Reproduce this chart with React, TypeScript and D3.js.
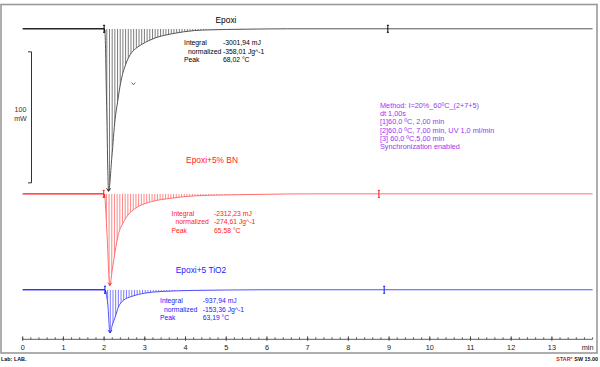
import React from 'react';
import * as d3 from 'd3';

// DSC curves: time in min, heat flow in mW (negative = exothermic, drawn downwards)
const epoxiTime = [0, 2.0, 2.02, 2.06, 2.11, 2.19, 2.27, 2.33, 2.39, 2.45, 2.51, 2.6, 2.68, 2.8, 2.92, 3.1, 3.25, 3.45, 3.66, 3.95, 4.23, 4.6, 5.0, 5.5, 6.5, 14];
const epoxiFlow = [0, 0, -2, -55, -124, -98, -69, -56, -44, -35, -29, -22, -18, -14.5, -12, -9, -7, -5.2, -3.8, -2.3, -1.3, -0.8, -0.5, -0.3, 0, 0];

const bnTime = [0, 2.0, 2.02, 2.07, 2.14, 2.2, 2.27, 2.35, 2.47, 2.59, 2.84, 3.17, 3.66, 4.23, 5.04, 6.0, 7.0, 14];
const bnFlow = [0, 0, -3, -30, -70, -58, -44, -31, -22, -16, -9.7, -5.9, -3.3, -1.5, -0.8, -0.3, 0, 0];

const tioTime = [0, 2.02, 2.05, 2.09, 2.145, 2.2, 2.27, 2.35, 2.47, 2.68, 3.0, 3.42, 4.23, 5.0, 6.0, 14];
const tioFlow = [0, 0, -3, -11, -33, -27, -21, -13.3, -8.2, -5.1, -2.6, -1.3, -0.5, -0.2, 0, 0];

const seriesNames = ['Epoxi', 'Epoxi+5% BN', 'Epoxi+5 TiO2'];
const integrals = ['-3001,94 mJ', '-2312,23 mJ', '-937,94 mJ'];
const normalizedVals = ['-358,01 Jg^-1', '-274,61 Jg^-1', '-153,36 Jg^-1'];
const peakTemps = ['68,02 °C', '65,58 °C', '63,19 °C'];
const limitStart = [2.0, 1.99, 2.02];
const limitEnd = [8.97, 8.75, 8.88];

// small chevron mark on the Epoxi curve
const markTime = 2.72;
const markFlow = -42;

const methodLines = [
  'Method: I=20%_60ºC_(2+7+5)',
  'dt 1,00s',
  '[1]60,0 ºC, 2,00 min',
  '[2]60,0 ºC, 7,00 min, UV 1,0 ml/min',
  '[3] 60,0 ºC,5,00 min',
  'Synchronization enabled',
];

const majorTicks = d3.range(0, 14);
const minorTicks = d3.range(0, 14.01, 0.2);

// layout
const W = 600;
const H = 367;
const offsets = [0, -126, -199.2];
const colors = ['#000000', '#ff1a1a', '#1a1aff'];
const lineColors = ['#555555', '#ff7070', '#5050ff'];
const hatchColors = ['#444444', '#ff5555', '#4444ff'];
const nameLabelPos = [[226, 23], [212, 163], [201, 273]];
const infoPos = [[184, 45], [171.5, 215.5], [160, 303]];
const valueShift = [39, 42.5, 42.7];
const font = "'Liberation Sans', Arial, sans-serif";

export default function App() {
  const x = d3.scaleLinear().domain([0, 14]).range([22.7, 592.6]);
  const y = d3.scaleLinear().domain([0, -100]).range([28.8, 159.8]);
  const axisY = 339.3;

  const series = [
    { t: epoxiTime, v: epoxiFlow },
    { t: bnTime, v: bnFlow },
    { t: tioTime, v: tioFlow },
  ];

  const mx = x(markTime);
  const my = y(markFlow);

  return (
    <svg width={W} height={H} style={{ position: 'absolute', left: 0, top: 0, background: '#fff' }} fontFamily={font}>
      <rect x={1} y={4.5} width={596} height={348.5} fill="none" stroke="#9a9a9a" strokeWidth={1.6} />

      <defs>
        {series.map((s, i) => {
          const base = y(offsets[i]);
          const area = d3.area<number>()
            .x((_, j) => x(s.t[j]))
            .y0(base)
            .y1((d) => y(d + offsets[i]))
            .curve(d3.curveMonotoneX);
          return (
            <clipPath id={`clip${i}`} key={i}>
              <path d={area(s.v) || ''} />
            </clipPath>
          );
        })}
      </defs>

      {series.map((s, i) => {
        const base = y(offsets[i]);
        const line = d3.line<number>()
          .x((_, j) => x(s.t[j]))
          .y((d) => y(d + offsets[i]))
          .curve(d3.curveMonotoneX);
        const hatch = d3.range(limitStart[i], limitEnd[i], 0.066);
        const minIdx = d3.minIndex(s.v);
        const px = x(s.t[minIdx]);
        const py = y(s.v[minIdx] + offsets[i]);
        const vx = infoPos[i][0] + valueShift[i];
        return (
          <g key={i}>
            <g clipPath={`url(#clip${i})`}>
              {hatch.map((h, k) => (
                <line key={k} x1={x(h)} x2={x(h)} y1={base} y2={base + 200} stroke={hatchColors[i]} strokeWidth={0.7} />
              ))}
            </g>
            <path d={line(s.v) || ''} fill="none" stroke={lineColors[i]} strokeWidth={1} />
            <path d={line(s.v.slice(0, 3)) || ''} fill="none" stroke={colors[i]} strokeWidth={1} />
            {[limitStart[i], limitEnd[i]].map((l, k) => (
              <g key={k} stroke={colors[i]} strokeWidth={1}>
                <line x1={x(l)} x2={x(l)} y1={base - 3.5} y2={base + 3.5} />
                <line x1={x(l) - 1} x2={x(l) + 1} y1={base - 3.5} y2={base - 3.5} />
                <line x1={x(l) - 1} x2={x(l) + 1} y1={base + 3.5} y2={base + 3.5} />
              </g>
            ))}
            <path d={`M${px - 2},${py - 3}L${px},${py}L${px + 2},${py - 3}`} fill="none" stroke={colors[i]} strokeWidth={0.8} />
            <text x={nameLabelPos[i][0]} y={nameLabelPos[i][1]} fontSize={8.4} fill={colors[i]} textAnchor="middle">{seriesNames[i]}</text>
            <g fontSize={6.8} fill={colors[i]}>
              <text x={infoPos[i][0]} y={infoPos[i][1]}>Integral</text>
              <text x={infoPos[i][0] + 4} y={infoPos[i][1] + 8.5}>normalized</text>
              <text x={infoPos[i][0]} y={infoPos[i][1] + 17}>Peak</text>
              <text x={vx} y={infoPos[i][1]}>{integrals[i]}</text>
              <text x={vx} y={infoPos[i][1] + 8.5}>{normalizedVals[i]}</text>
              <text x={vx} y={infoPos[i][1] + 17}>{peakTemps[i]}</text>
            </g>
          </g>
        );
      })}

      <path d={`M${mx - 1.8},${my - 1.2}L${mx},${my + 0.8}L${mx + 1.8},${my - 1.2}`} fill="none" stroke="#333" strokeWidth={0.8} />

      {/* scale bar 100 mW */}
      <g stroke="#333" strokeWidth={1}>
        <line x1={31.5} x2={31.5} y1={y(-17.6)} y2={y(-117.6)} />
        <line x1={28} x2={31.5} y1={y(-17.6)} y2={y(-17.6)} />
        <line x1={28} x2={31.5} y1={y(-117.6)} y2={y(-117.6)} />
      </g>
      <text x={20.5} y={111.5} fontSize={7.1} textAnchor="middle" fill="#333">100</text>
      <text x={20.5} y={121} fontSize={7.1} textAnchor="middle" fill="#333">mW</text>

      <g fontSize={7.3} fill="#9b35f0">
        {methodLines.map((m, i) => (
          <text key={i} x={380} y={107.5 + i * 8.35}>{m}</text>
        ))}
      </g>

      {/* time axis */}
      <g stroke="#333" strokeWidth={0.8}>
        <line x1={x(0)} x2={x(14)} y1={axisY} y2={axisY} />
        {minorTicks.map((t, i) => (
          <line key={i} x1={x(t)} x2={x(t)} y1={axisY - 2} y2={axisY} />
        ))}
        {majorTicks.map((t) => (
          <line key={t} x1={x(t)} x2={x(t)} y1={axisY - 3} y2={axisY + 1.5} />
        ))}
      </g>
      <g fontSize={7.3} fill="#222" textAnchor="middle">
        {majorTicks.map((t) => (
          <text key={t} x={x(t)} y={349.8}>{t}</text>
        ))}
        <text x={x(14) - 5} y={349.8}>min</text>
      </g>

      <text x={1} y={361} fontSize={5.4} fontWeight="bold" fill="#111">Lab: LAB.</text>
      <text x={598} y={361} fontSize={5.4} fontWeight="bold" fill="#111" textAnchor="end">
        <tspan fill="#e01010">STAR</tspan>
        <tspan fontSize={4} dy={-2} fill="#e01010">e</tspan>
        <tspan dy={2}> SW 15.00</tspan>
      </text>
    </svg>
  );
}
